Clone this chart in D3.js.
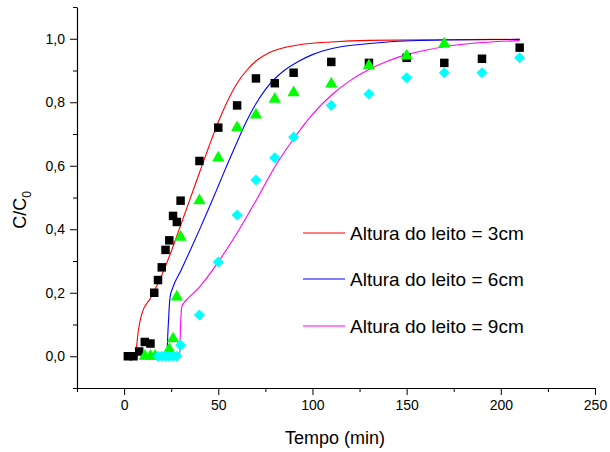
<!DOCTYPE html>
<html>
<head>
<meta charset="utf-8">
<script src="https://cdn.jsdelivr.net/npm/d3@7"></script>
<style>
  html, body { margin: 0; padding: 0; background: #fff; }
  svg { display: block; font-family: "Liberation Sans", Arial, sans-serif; }
</style>
</head>
<body>
<svg id="chart" width="610" height="452"></svg>
<script>
const t3 = [2, 5, 8, 11, 14, 16, 18, 20, 22, 24, 26, 28, 30, 40, 50, 60, 70, 80, 90, 110, 130, 150, 170, 190, 210];
const v3 = [0, 0, 0.015, 0.045, 0.04, 0.2, 0.24, 0.28, 0.335, 0.365, 0.442, 0.423, 0.49, 0.615, 0.72, 0.79, 0.875, 0.86, 0.893, 0.927, 0.924, 0.94, 0.924, 0.937, 0.972];

const t6 = [11, 14, 16.5, 24, 26, 28, 30, 40, 50, 60, 70, 80, 90, 110, 130, 150, 170];
const v6 = [0, 0, 0, 0.022, 0.055, 0.187, 0.375, 0.49, 0.625, 0.72, 0.76, 0.81, 0.83, 0.858, 0.915, 0.946, 0.984];

const t9 = [18, 20, 22, 24, 26, 28, 30, 40, 50, 60, 70, 80, 90, 110, 130, 150, 170, 190, 210];
const v9 = [0, 0, 0, 0, 0, 0, 0.035, 0.13, 0.297, 0.445, 0.555, 0.625, 0.69, 0.79, 0.826, 0.877, 0.893, 0.893, 0.94];

// ---- Model curves ----
const curve3T = [2, 6, 6.6, 7.6, 9.5, 14, 20, 25, 30, 35, 40, 45, 50, 55, 60, 65, 70, 77, 85, 93, 110, 130, 170, 210];
const curve3V = [0, 0, 0.03, 0.082, 0.135, 0.183, 0.255, 0.33, 0.412, 0.495, 0.578, 0.66, 0.738, 0.805, 0.86, 0.9, 0.93, 0.956, 0.972, 0.981, 0.99, 0.995, 0.997, 0.998];

const curve6T = [12, 22.6, 23.3, 24.4, 26, 30, 35, 40, 45, 50, 55, 60, 65, 70, 75, 80, 85, 93, 100, 111, 125, 140, 170, 210];
const curve6V = [0, 0, 0.08, 0.186, 0.218, 0.268, 0.332, 0.398, 0.466, 0.536, 0.607, 0.675, 0.74, 0.795, 0.84, 0.874, 0.9, 0.93, 0.95, 0.97, 0.982, 0.99, 0.996, 0.998];

const curve9T = [18, 29.5, 29.9, 30.6, 32, 33.5, 40, 50, 60, 70, 80, 90, 100, 110, 120, 130, 140, 150, 160, 170, 190, 210];
const curve9V = [0, 0, 0.082, 0.155, 0.17, 0.18, 0.218, 0.297, 0.388, 0.49, 0.596, 0.685, 0.762, 0.822, 0.868, 0.903, 0.93, 0.95, 0.964, 0.975, 0.988, 0.994];

// ---- Tick values and labels ----
const xMajorTicks = [0, 50, 100, 150, 200, 250];
const xMinorTicks = [-25, 25, 75, 125, 175, 225];
const yMajorTicks = [0, 0.2, 0.4, 0.6, 0.8, 1.0];
const yMinorTicks = [-0.1, 0.1, 0.3, 0.5, 0.7, 0.9, 1.1];
const legendLabels = ["Altura do leito = 3cm", "Altura do leito = 6cm", "Altura do leito = 9cm"];
const lineColors = ["#ff0000", "#0000ff", "#ff00ff"];
const xTitle = "Tempo (min)";

// ---- Drawing ----
const svg = d3.select("#chart");
const x = d3.scaleLinear().domain([-25, 250]).range([77, 595]);
const y = d3.scaleLinear().domain([-0.1, 1.1]).range([388, 7]);
const fmt = d => d3.format(".1f")(d).replace(".", ",");

// minor ticks
svg.append("g").attr("transform", "translate(0,388)")
  .call(d3.axisBottom(x).tickValues(xMinorTicks).tickSize(4).tickSizeOuter(0).tickFormat(""))
  .call(g => g.select(".domain").remove());
svg.append("g").attr("transform", "translate(77,0)")
  .call(d3.axisLeft(y).tickValues(yMinorTicks).tickSize(4).tickSizeOuter(0).tickFormat(""))
  .call(g => g.select(".domain").remove());

// major axes
svg.append("g").attr("transform", "translate(0,388)")
  .call(d3.axisBottom(x).tickValues(xMajorTicks).tickSize(7).tickSizeOuter(0).tickPadding(5).tickFormat(d3.format("d")));
svg.append("g").attr("transform", "translate(77,0)")
  .call(d3.axisLeft(y).tickValues(yMajorTicks).tickSize(7).tickSizeOuter(0).tickPadding(5).tickFormat(fmt));

svg.selectAll(".tick text").attr("font-size", 14).attr("font-family", "Liberation Sans, Arial, sans-serif").attr("fill", "#000");
svg.selectAll(".tick line").attr("stroke", "#000");
svg.selectAll(".domain").attr("stroke", "#000").attr("stroke-width", 1.2);

// axis titles
svg.append("text").attr("x", 335).attr("y", 444).attr("text-anchor", "middle")
  .attr("font-size", 18).text(xTitle);
const yt = svg.append("text").attr("transform", "translate(26,210) rotate(-90)")
  .attr("text-anchor", "middle").attr("font-size", 18);
yt.append("tspan").text("C/C");
yt.append("tspan").attr("font-size", 12).attr("dy", 5).text("0");

// curves
const curves = [[curve3T, curve3V], [curve6T, curve6V], [curve9T, curve9V]];
const line = d3.line().x(d => x(d[0])).y(d => y(d[1])).curve(d3.curveMonotoneX);
curves.forEach(([ts, vs], i) => {
  svg.append("path").datum(ts.map((t, k) => [t, vs[k]]))
    .attr("d", line).attr("fill", "none").attr("stroke", lineColors[i]).attr("stroke-width", 1.1);
});

// markers
const sq = d3.symbol().type(d3.symbolSquare).size(72);
const tri = d3.symbol().type(d3.symbolTriangle).size(66);
const dia = d3.symbol().type(d3.symbolSquare).size(62);
svg.append("g").selectAll("path").data(t3.map((t, k) => [t, v3[k]])).join("path")
  .attr("d", sq).attr("transform", d => `translate(${x(d[0])},${y(d[1])})`).attr("fill", "#000");
svg.append("g").selectAll("path").data(t6.map((t, k) => [t, v6[k]])).join("path")
  .attr("d", tri).attr("transform", d => `translate(${x(d[0])},${y(d[1])})`).attr("fill", "#00ff00");
svg.append("g").selectAll("path").data(t9.map((t, k) => [t, v9[k]])).join("path")
  .attr("d", dia).attr("transform", d => `translate(${x(d[0])},${y(d[1])}) rotate(45)`).attr("fill", "#00ffff");

// legend
const legendY = [233, 279, 326];
legendLabels.forEach((lab, i) => {
  svg.append("line").attr("x1", 303).attr("x2", 345).attr("y1", legendY[i]).attr("y2", legendY[i])
    .attr("stroke", lineColors[i]).attr("stroke-width", 1.1);
  svg.append("text").attr("x", 350).attr("y", legendY[i]).attr("dy", "0.35em")
    .attr("font-size", 19).text(lab);
});
</script>
</body>
</html>
